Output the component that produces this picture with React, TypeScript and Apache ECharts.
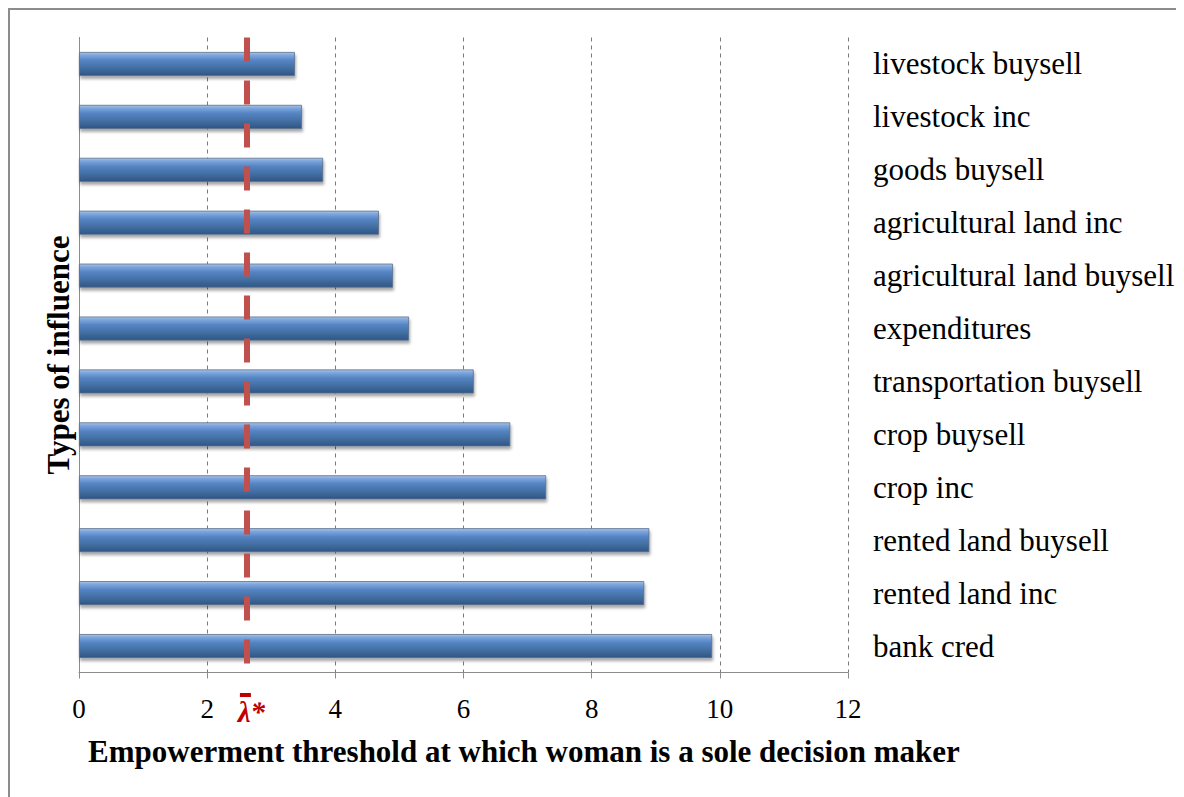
import React, { useEffect, useRef } from "react";
import * as echarts from "echarts";

const categories = [
  "livestock buysell",
  "livestock inc",
  "goods buysell",
  "agricultural land inc",
  "agricultural land buysell",
  "expenditures",
  "transportation buysell",
  "crop buysell",
  "crop inc",
  "rented land buysell",
  "rented land inc",
  "bank cred",
];
const thresholds = [3.37, 3.48, 3.81, 4.68, 4.9, 5.15, 6.16, 6.73, 7.29, 8.9, 8.82, 9.88];
const lambdaStar = 2.62;
const xTicks = [0, 2, 4, 6, 8, 10, 12];

const SERIF = "'Times New Roman', 'Liberation Serif', serif";

export default function App() {
  const ref = useRef<HTMLDivElement>(null);
  useEffect(() => {
    if (!ref.current) return;
    const chart = echarts.init(ref.current, undefined, { renderer: "svg" });
    chart.setOption({
      animation: false,
      backgroundColor: "#ffffff",
      grid: { left: 69, right: 336, top: 27.5, bottom: 124.5, containLabel: false },
      xAxis: {
        type: "value",
        min: xTicks[0],
        max: xTicks[xTicks.length - 1],
        interval: 2,
        axisLine: { show: true, lineStyle: { color: "#8c8c8c", width: 1 } },
        axisTick: { show: true, length: 6, lineStyle: { color: "#8c8c8c" } },
        axisLabel: { color: "#000", fontSize: 27, fontFamily: SERIF, margin: 23 },
        splitLine: {
          show: true,
          lineStyle: { color: "#7a7a7a", width: 1, type: [4, 4] },
        },
      },
      yAxis: [
        {
          type: "category",
          data: categories,
          inverse: true,
          position: "right",
          axisLine: { show: false },
          axisTick: { show: false },
          axisLabel: { color: "#000", fontSize: 31, fontFamily: SERIF, margin: 25, align: "left" },
          splitLine: { show: false },
        },
        {
          type: "category",
          data: categories,
          inverse: true,
          position: "left",
          axisLine: { show: true, lineStyle: { color: "#8c8c8c", width: 1 } },
          axisTick: { show: false },
          axisLabel: { show: false },
          name: "Types of influence",
          nameLocation: "middle",
          nameGap: 5,
          nameRotate: 90,
          nameTextStyle: { color: "#000", fontSize: 31, fontWeight: "bold", fontFamily: SERIF },
        },
      ],
      series: [
        {
          type: "bar",
          yAxisIndex: 0,
          data: thresholds,
          barWidth: 24,
          itemStyle: {
            color: new echarts.graphic.LinearGradient(0, 0, 0, 1, [
              { offset: 0, color: "#a9c4e8" },
              { offset: 0.12, color: "#7ea6dc" },
              { offset: 0.35, color: "#5584c4" },
              { offset: 0.7, color: "#416d9f" },
              { offset: 1, color: "#2f5585" },
            ]),
            borderColor: "#5b6f8a",
            borderWidth: 0.8,
            shadowColor: "rgba(0,0,0,0.35)",
            shadowBlur: 3,
            shadowOffsetY: 3,
            shadowOffsetX: 1,
          },
          markLine: {
            silent: true,
            symbol: ["none", "none"],
            lineStyle: { color: "#C0504D", width: 6, type: [24, 19], opacity: 1 },
            label: {
              show: true,
              position: "end",
              formatter: "{o| }{s| }\n{l|λ*}",
              distance: 19,
              padding: [0, 0, 0, 9],
              rich: {
                o: { width: 11, height: 4, backgroundColor: "#C00000", lineHeight: 7 },
                s: { width: 12, height: 4, lineHeight: 7 },
                l: {
                  color: "#C00000",
                  fontSize: 29,
                  fontWeight: "bold",
                  fontStyle: "italic",
                  fontFamily: SERIF,
                  lineHeight: 26,
                },
              },
            },
            data: [{ xAxis: lambdaStar }],
          },
        },
      ],
      graphic: [
        {
          type: "text",
          left: 78,
          top: 726,
          style: {
            text: "Empowerment threshold at which woman is a sole decision maker",
            fill: "#000",
            fontSize: 31,
            fontWeight: "bold",
            fontFamily: SERIF,
          },
        },
      ],
    });
    return () => chart.dispose();
  }, []);

  return (
    <div
      style={{
        borderTop: "2px solid #8c8c8c",
        borderLeft: "2px solid #8c8c8c",
        width: 1174,
        height: 787,
      }}
    >
      <div ref={ref} style={{ width: 1174, height: 787 }} />
    </div>
  );
}
